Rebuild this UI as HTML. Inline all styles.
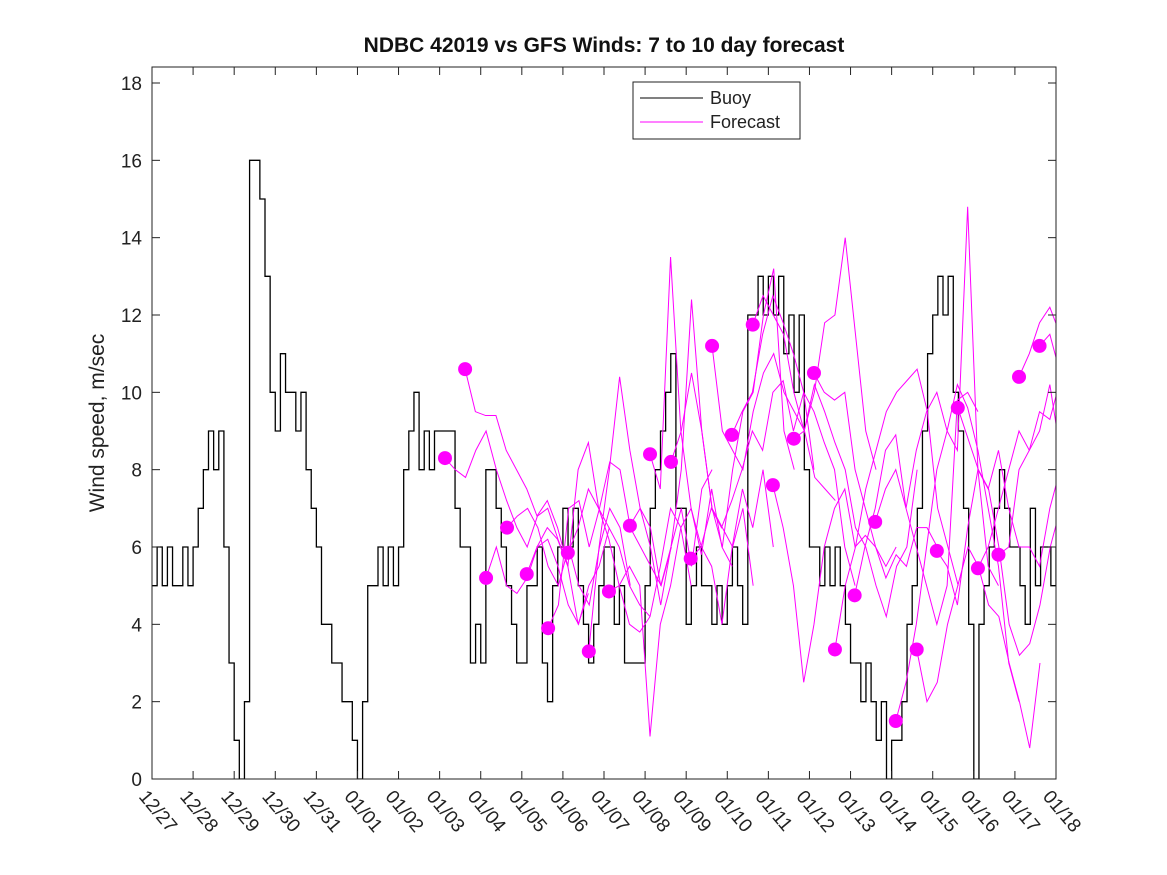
<!DOCTYPE html>
<html><head><meta charset="utf-8"><style>
body{margin:0;background:#fff;}
svg{display:block;font-family:"Liberation Sans",sans-serif;}
</style></head><body>
<svg id="chart" width="1167" height="875">
<rect x="0" y="0" width="1167" height="875" fill="#fff"/>
<text x="604" y="52" text-anchor="middle" font-size="21" font-weight="bold" fill="#111">NDBC 42019 vs GFS Winds: 7 to 10 day forecast</text>
<text transform="translate(104,423) rotate(-90)" text-anchor="middle" font-size="21" fill="#222">Wind speed, m/sec</text>
<g id="plot"></g>
<g id="axes"></g>
<g>
<rect x="633" y="82" width="167" height="57" fill="#fff" stroke="#222" stroke-width="1"/>
<line x1="640" y1="98" x2="703" y2="98" stroke="#000" stroke-width="1"/>
<text x="710" y="104" font-size="18" fill="#222">Buoy</text>
<line x1="640" y1="122" x2="703" y2="122" stroke="#f0f" stroke-width="1"/>
<text x="710" y="128" font-size="18" fill="#222">Forecast</text>
</g>
</svg>
<script>
const xTickLabels=["12/27","12/28","12/29","12/30","12/31","01/01","01/02","01/03","01/04","01/05","01/06","01/07","01/08","01/09","01/10","01/11","01/12","01/13","01/14","01/15","01/16","01/17","01/18"];
const yTicks=[0,2,4,6,8,10,12,14,16,18];
const buoyStep=0.125;
const buoy=[5,6,5,6,5,5,6,5, 6,7, 8,9,8,9, 6,3, 1,0,2,
16,16,15,13,10,9,
11,10,10,9,10,8,7,6,
4,4,3,3,2,2,1,0,
2,5,5,6,5,6,5,6,
8,9,10,8,9,8,9,9,
9,9,7,6,6,3,4,3,
8,8,7,6,5,4,3,3,
5,5,6,3,2,5,6,7,
6,7,5,4,3,4,5,6,
6,4,5,3,3,3,3,5,
7,8,9,10,11,7,7,4,
5,6,5,5,4,5,4,5,
6,5,4,12,12,13,12,13,
12,13,11,12,10,12,8,6,
6,5,6,5,6,5,4,3,
3,2,3,2,1,2,0,1,
1,2,4,5,7,9,11,12,
13,12,13,10,9,7,4,0,
4,5,6,7,8,7,6,6,
5,4,7,5,6,6,5,6];
const dotDays=[7.13,7.62,8.13,8.64,9.12,9.64,10.12,10.63,11.12,11.63,12.12,12.63,13.11,13.63,14.11,14.62,15.11,15.62,16.11,16.62,17.1,17.6,18.1,18.61,19.1,19.61,20.1,20.6,21.1,21.6];
const dotVals=[8.3,10.6,5.2,6.5,5.3,3.9,5.85,3.3,4.85,6.55,8.4,8.2,5.7,11.2,8.9,11.75,7.6,8.8,10.5,3.35,4.75,6.65,1.5,3.35,5.9,9.6,5.45,5.8,10.4,11.2];
const fcStep=0.25;
const forecasts=[
[8.3,8,7.8,8.5,9,8,7.2,6.5,6,6.8,7,6.2,5.5],
[10.6,9.5,9.4,9.4,8.5,8,7.5,6.8,7.2,6.5,5.5,4,4.8],
[5.2,6,5,4.8,5.2,6,6.2,5.5,4.5,4,5,5.5,6.5],
[6.5,6.8,7,6.5,5.5,5,6,5,4.5,6,7,6.5,5],
[5.3,6,6.5,6.2,5.5,8,8.7,7,6.5,6,5,4.5,4.2],
[3.9,4.5,7,7.2,6,7,8.2,8,6.5,6,5.5,5,6],
[5.85,6.5,7.5,7,6.2,5,4,3.8,4.2,5.5,7,6.5,5],
[3.3,6,8,10.4,8.5,7,6,4.5,6,7,5.5,7.5,8],
[4.85,5,5.5,5,1.1,4,5,6.5,7,5.8,7.5,6,5.5],
[6.55,7,6.5,5,6,8,12.4,9,7,6.5,6,7,5],
[8.4,7.5,13.5,9,7,6,5.5,4,6,7.5,6.5,8,6],
[8.2,9,10.5,9,7,6,8,9.5,10,12,13.2,9,8],
[5.7,6,7,6.5,7.2,8,9,8.5,10,10.3,9,10,8],
[11.2,9,8.5,8,9.5,10.5,11,10,9.5,9,7.8,7.5,7.2],
[8.9,9.5,10,11.5,12.5,11.8,11,10,9.5,8.7,8,6,5],
[11.75,12.5,12,11.5,10,9,10,11.8,12,14,11.5,9,8],
[7.6,6.5,5,2.5,4,6,7,7.5,6,6.3,6,5.5,6],
[8.8,9,10.2,9.5,8.7,8,6.5,6,5,4.2,5.5,6,8],
[10.5,10,9.8,10,8,7,6,5.2,5.8,5.5,6.5,6.5,6],
[3.35,5,6,7.5,8.5,9.5,10,10.3,10.6,9.5,7,6,5],
[4.75,6,7,8.5,8.9,7,6,5,4,5,9.8,10,9.5],
[6.65,7.5,8,7,8.5,9.5,10,9,8.5,14.8,8,5.5,5],
[1.5,2.5,4,6,8,9,10.2,9.6,8.5,7,5.5,3,2],
[3.35,2,2.5,4,5,6,5.5,4.5,4.2,3,2,0.8,3],
[5.9,5.5,4.5,6.5,8,7.5,8.5,7,6,6,5.5,7,8],
[9.6,8.8,8,7.5,6,4,3.2,3.5,4.5,6,7,8,9],
[5.45,6,7,8,9,8.5,9,10.2,8.5,9.5,10.5,11.5,12],
[5.8,6,8,8.5,9.5,9.3,10.3,10,9.5,12.5,13.6,11],
[10.4,11,11.8,12.2,11.5,12.8,16.5,15.5,14.5],
[11.2,11.5,10.5,12,13.5,13.7]
];
const NS="http://www.w3.org/2000/svg";
const X0=152,X1=1056,Y0=779,Yt=67;
function xs(d){return X0+d*(X1-X0)/22;}
function ys(v){return Y0-v*(Y0-83)/18;}
const plot=document.getElementById('plot');
const axes=document.getElementById('axes');
function mk(t,a,p){const e=document.createElementNS(NS,t);for(const k in a)e.setAttribute(k,a[k]);p.appendChild(e);return e;}
const defs=mk('defs',{},plot);
const cp=mk('clipPath',{id:'cl'},defs);
mk('rect',{x:X0,y:Yt,width:X1-X0,height:Y0-Yt},cp);
const g=mk('g',{'clip-path':'url(#cl)'},plot);
let d='';
buoy.forEach((v,i)=>{const x=xs(i*buoyStep),y=ys(v);if(i===0)d='M'+x+' '+y;else d+=' H'+x+' V'+y;});
const bl=mk('path',{d:d,fill:'none',stroke:'#000','stroke-width':1.3},g);


forecasts.forEach((arr,i)=>{
  const pts=arr.map((v,j)=>xs(dotDays[i]+j*fcStep)+','+ys(v)).join(' ');
  const pl=mk('polyline',{points:pts,fill:'none',stroke:'#f0f','stroke-width':1},g);
  
  
});
dotDays.forEach((dd,i)=>{
  const c=mk('circle',{cx:xs(dd),cy:ys(dotVals[i]),r:7,fill:'#f0f'},g);
  
  
});
mk('rect',{x:X0,y:Yt,width:X1-X0,height:Y0-Yt,fill:'none',stroke:'#222','stroke-width':1},axes);
yTicks.forEach(v=>{
  const y=ys(v);
  mk('line',{x1:X0,y1:y,x2:X0+8,y2:y,stroke:'#222'},axes);
  mk('line',{x1:X1,y1:y,x2:X1-8,y2:y,stroke:'#222'},axes);
  const t=mk('text',{x:X0-10,y:y+7,'text-anchor':'end','font-size':19,fill:'#222'},axes);
  t.textContent=v;
  
  
});
xTickLabels.forEach((l,i)=>{
  const x=xs(i);
  mk('line',{x1:x,y1:Y0,x2:x,y2:Y0-8,stroke:'#222'},axes);
  mk('line',{x1:x,y1:Yt,x2:x,y2:Yt+8,stroke:'#222'},axes);
  const t=mk('text',{x:x-14,y:Y0+18,transform:'rotate(50 '+(x-14)+' '+(Y0+18)+')','font-size':19,fill:'#222'},axes);
  t.textContent=l;
  
  
});
</script>
</body></html>
